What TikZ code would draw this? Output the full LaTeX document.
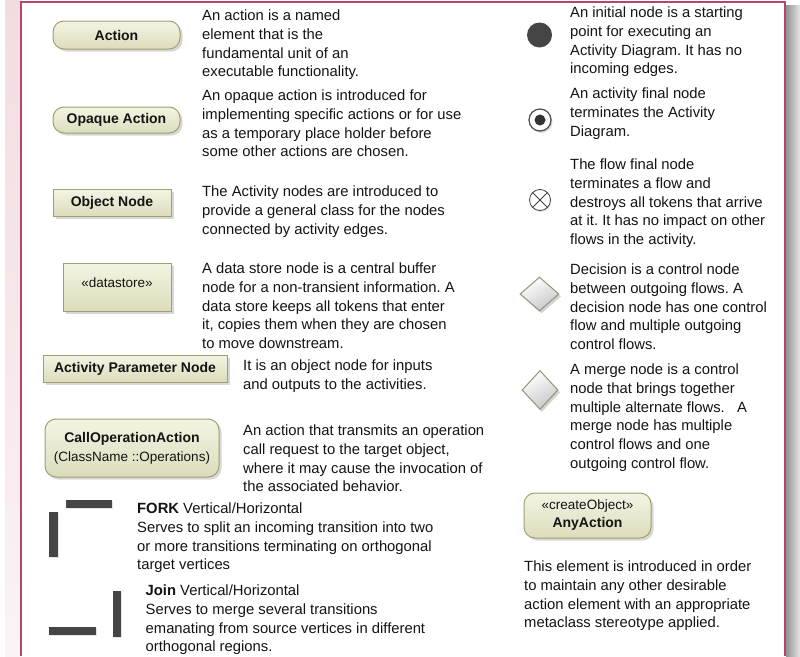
\documentclass[tikz,border=0pt]{standalone}
\usepackage{fontspec}
\setmainfont{Liberation Sans}
\usetikzlibrary{shapes.geometric,shadows}
\frenchspacing

\definecolor{frameline}{HTML}{B4466E}
\definecolor{stripTop}{HTML}{F2DCE0}
\definecolor{stripBot}{HTML}{FBF3F4}
\definecolor{actTop}{HTML}{F4F4E4}
\definecolor{actBot}{HTML}{DCDCBC}
\definecolor{actLine}{HTML}{A0A070}
\definecolor{barGray}{HTML}{454545}
\definecolor{textGray}{HTML}{141414}
\definecolor{dmLine}{HTML}{93937E}

\tikzset{
  desc/.style={anchor=north west, inner sep=0pt, align=left, text=textGray,
    font=\fontsize{14.8}{18.8}\selectfont},
  lbl/.style={font=\fontsize{14}{17}\selectfont\bfseries, text=textGray},
  lblreg/.style={font=\fontsize{13.5}{17}\selectfont, text=textGray},
  boxbase/.style={draw=actLine, line width=1pt, inner sep=0pt,
    top color=actTop, bottom color=actBot,
    drop shadow={shadow xshift=2.5pt, shadow yshift=-2.5pt, fill=black!30}},
  actionbox/.style={boxbase, rounded corners=11pt},
  objbox/.style={boxbase},
  bar/.style={fill=barGray, draw=none, inner sep=0pt,
    drop shadow={shadow xshift=1pt, shadow yshift=-1pt, fill=black!20}},
  dmnd/.style={diamond, draw=dmLine, line width=1pt, inner sep=0pt,
    top color=white, bottom color=black!22, shading angle=30,
    drop shadow={shadow xshift=2pt, shadow yshift=-2.5pt, fill=black!35}},
}

\begin{document}
\begin{tikzpicture}[x=1pt,y=-1pt]
  \useasboundingbox (0,0) rectangle (800,656);

  % page background, side strip and panel frame
  \fill[white] (0,0) rectangle (800,656);
  \shade[top color=stripTop, bottom color=stripBot] (5,0) rectangle (20,656);
  \shade[left color=black!42, right color=black!10] (786,5) rectangle (800,656);
  \draw[frameline, line width=2pt] (21,656) -- (21,2) -- (785,2) -- (785,656);

  % ---------- left column ----------
  \node[actionbox, minimum width=127pt, minimum height=28pt, lbl] (action) at (116.5,35) {Action};
  \node[desc] (actionT) at (202,9.5) {An action is a named\\element that is the\\fundamental unit of an\\executable functionality.};

  \node[actionbox, minimum width=127pt, minimum height=26pt, lbl] (opaque) at (116.5,120) {Opaque Action};
  \node[desc] (opaqueT) at (202,89.5) {An opaque action is introduced for\\implementing specific actions or for use\\as a temporary place holder before\\some other actions are chosen.};

  \node[objbox, minimum width=118pt, minimum height=27pt, lbl] (objnode) at (112,202.5) {Object Node};
  \node[desc] (objnodeT) at (202,185.5) {The Activity nodes are introduced to\\provide a general class for the nodes\\connected by activity edges.};

  \node[objbox, minimum width=108pt, minimum height=48pt,
    label={[lblreg, anchor=north, inner sep=0pt, yshift=-15pt]north:«datastore»}] (store) at (117,287) {};
  \node[desc] (storeT) at (202,262.5) {A data store node is a central buffer\\node for a non-transient information. A\\data store keeps all tokens that enter\\it, copies them when they are chosen\\to move downstream.};

  \node[objbox, minimum width=184pt, minimum height=27pt, lbl] (param) at (135,368.5) {Activity Parameter Node};
  \node[desc] (paramT) at (243,359.5) {It is an object node for inputs\\and outputs to the activities.};

  \node[actionbox, minimum width=174pt, minimum height=58pt, align=center,
    font=\fontsize{13.5}{19}\selectfont, text=textGray] (callop) at (132,448)
    {{\fontsize{14}{19}\selectfont\bfseries CallOperationAction}\\(ClassName ::Operations)};
  \node[desc] (callopT) at (243,424.5) {An action that transmits an operation\\call request to the target object,\\where it may cause the invocation of\\the associated behavior.};

  % fork bars
  \node[bar, minimum width=46pt, minimum height=8pt] (forkH) at (89,504) {};
  \node[bar, minimum width=9pt, minimum height=45pt] (forkV) at (53.5,534.5) {};
  \node[desc] (forkT) at (137,502.5) {\textbf{FORK} Vertical/Horizontal\\Serves to split an incoming transition into two\\or more transitions terminating on orthogonal\\target vertices};

  % join bars
  \node[bar, minimum width=8pt, minimum height=46pt] (joinV) at (117,614) {};
  \node[bar, minimum width=47pt, minimum height=8pt] (joinH) at (72.5,631) {};
  \node[desc] (joinT) at (145.5,584.5) {\textbf{Join} Vertical/Horizontal\\Serves to merge several transitions\\emanating from source vertices in different\\orthogonal regions.};

  % ---------- right column ----------
  \node[circle, fill=barGray, minimum size=25pt, inner sep=0pt] (initial) at (539.5,35) {};
  \node[desc] (initialT) at (570,6.5) {An initial node is a starting\\point for executing an\\Activity Diagram. It has no\\incoming edges.};

  \node[circle, draw=black!70, line width=1.2pt, fill=white, minimum size=22pt, inner sep=0pt,
    drop shadow={shadow xshift=1.5pt, shadow yshift=-2pt, fill=black!30}] (final) at (540,120) {};
  \node[circle, fill=black!80, minimum size=11pt, inner sep=0pt] (finalDot) at (final.center) {};
  \node[desc] (finalT) at (570,87.5) {An activity final node\\terminates the Activity\\Diagram.};

  \node[circle, draw=black!75, line width=0.8pt, fill=white, minimum size=21pt, inner sep=0pt,
    drop shadow={shadow xshift=1pt, shadow yshift=-1.5pt, fill=black!20}] (flowfinal) at (540,200) {};
  \draw[black!75, line width=0.8pt] (flowfinal.north east) -- (flowfinal.south west)
    (flowfinal.north west) -- (flowfinal.south east);
  \node[desc] (flowfinalT) at (570,158.5) {The flow final node\\terminates a flow and\\destroys all tokens that arrive\\at it. It has no impact on other\\flows in the activity.};

  \node[dmnd, minimum width=39pt, minimum height=34pt] (decision) at (539.5,294) {};
  \node[desc] (decisionT) at (570,263.5) {Decision is a control node\\between outgoing flows. A\\decision node has one control\\flow and multiple outgoing\\control flows.};

  \node[dmnd, minimum width=36pt, minimum height=39pt] (merge) at (540,390) {};
  \node[desc] (mergeT) at (570,363.5) {A merge node is a control\\node that brings together\\multiple alternate flows.~~~A\\merge node has multiple\\control flows and one\\outgoing control flow.};

  \node[actionbox, minimum width=127pt, minimum height=45pt, align=center,
    font=\fontsize{13.5}{18}\selectfont, text=textGray] (create) at (587.5,515.5)
    {«createObject»\\{\fontsize{14}{18}\selectfont\bfseries AnyAction}};
  \node[desc] (createT) at (524,560.5) {This element is introduced in order\\to maintain any other desirable\\action element with an appropriate\\metaclass stereotype applied.};
\end{tikzpicture}
\end{document}
